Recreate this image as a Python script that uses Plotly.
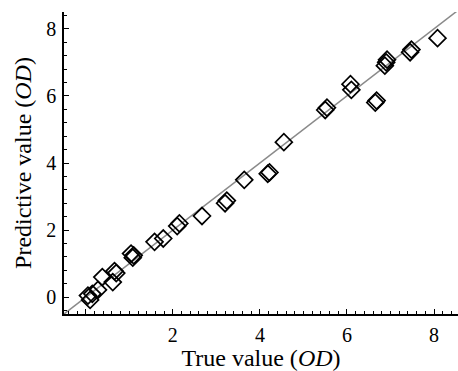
import plotly.graph_objects as go

# Data
true_value = [0.05, 0.10, 0.15, 0.28, 0.38, 0.62, 0.66, 0.70, 1.04, 1.08, 1.10,
              1.58, 1.78, 2.10, 2.15, 2.67, 3.20, 3.24, 3.64, 4.18, 4.22, 4.55,
              5.50, 5.54, 6.08, 6.10, 6.65, 6.68, 6.87, 6.90, 6.92, 7.45, 7.48, 8.08]
predicted_value = [0.05, -0.08, 0.10, 0.22, 0.60, 0.45, 0.78, 0.72, 1.30, 1.18, 1.25,
                   1.65, 1.75, 2.12, 2.20, 2.42, 2.80, 2.88, 3.50, 3.68, 3.72, 4.62,
                   5.58, 5.65, 6.35, 6.18, 5.80, 5.86, 6.90, 7.00, 7.08, 7.30, 7.38, 7.72]
diagonal = [-0.5, 8.6]
x_tickvals = [0, 2, 4, 6, 8]
x_ticktext = ["", "2", "4", "6", "8"]
y_tickvals = [0, 2, 4, 6, 8]
y_ticktext = ["0", "2", "4", "6", "8"]

fig = go.Figure()
fig.add_trace(go.Scatter(
    x=diagonal, y=diagonal, mode="lines",
    line=dict(color="#8a8a8a", width=1.5), hoverinfo="skip", showlegend=False))
fig.add_trace(go.Scatter(
    x=true_value, y=predicted_value, mode="markers",
    marker=dict(symbol="diamond-open", size=13, color="black",
                line=dict(color="black", width=1.7)),
    showlegend=False))

serif = "Liberation Serif, Times New Roman, serif"
axis_common = dict(
    showline=True, linecolor="black", linewidth=1.5, mirror=False,
    showgrid=False, zeroline=False,
    ticks="inside", ticklen=5, tickwidth=1.2, tickcolor="black",
    tickfont=dict(family=serif, size=20, color="black"),
)

fig.update_xaxes(
    range=[-0.5, 8.55], tickmode="array", tickvals=x_tickvals, ticktext=x_ticktext,
    minor=dict(ticks="inside", ticklen=3, tickwidth=1, tickcolor="black", dtick=0.2, tick0=0),
    title=dict(text="True value (<i>OD</i>)", font=dict(family=serif, size=24, color="black"), standoff=2),
    ticklabelstandoff=2,
    **axis_common)
fig.update_yaxes(
    range=[-0.5, 8.5], tickmode="array", tickvals=y_tickvals, ticktext=y_ticktext,
    minor=dict(ticks="inside", ticklen=3, tickwidth=1, tickcolor="black", dtick=0.4, tick0=0),
    title=dict(text="Predictive value (<i>OD</i>)", font=dict(family=serif, size=24, color="black"), standoff=8),
    ticklabelstandoff=2,
    **axis_common)

fig.update_layout(
    width=458, height=371,
    margin=dict(l=64, r=0, t=12, b=57, autoexpand=False),
    paper_bgcolor="white", plot_bgcolor="white",
    font=dict(family=serif, color="black"),
)

fig.write_html("out.html")
